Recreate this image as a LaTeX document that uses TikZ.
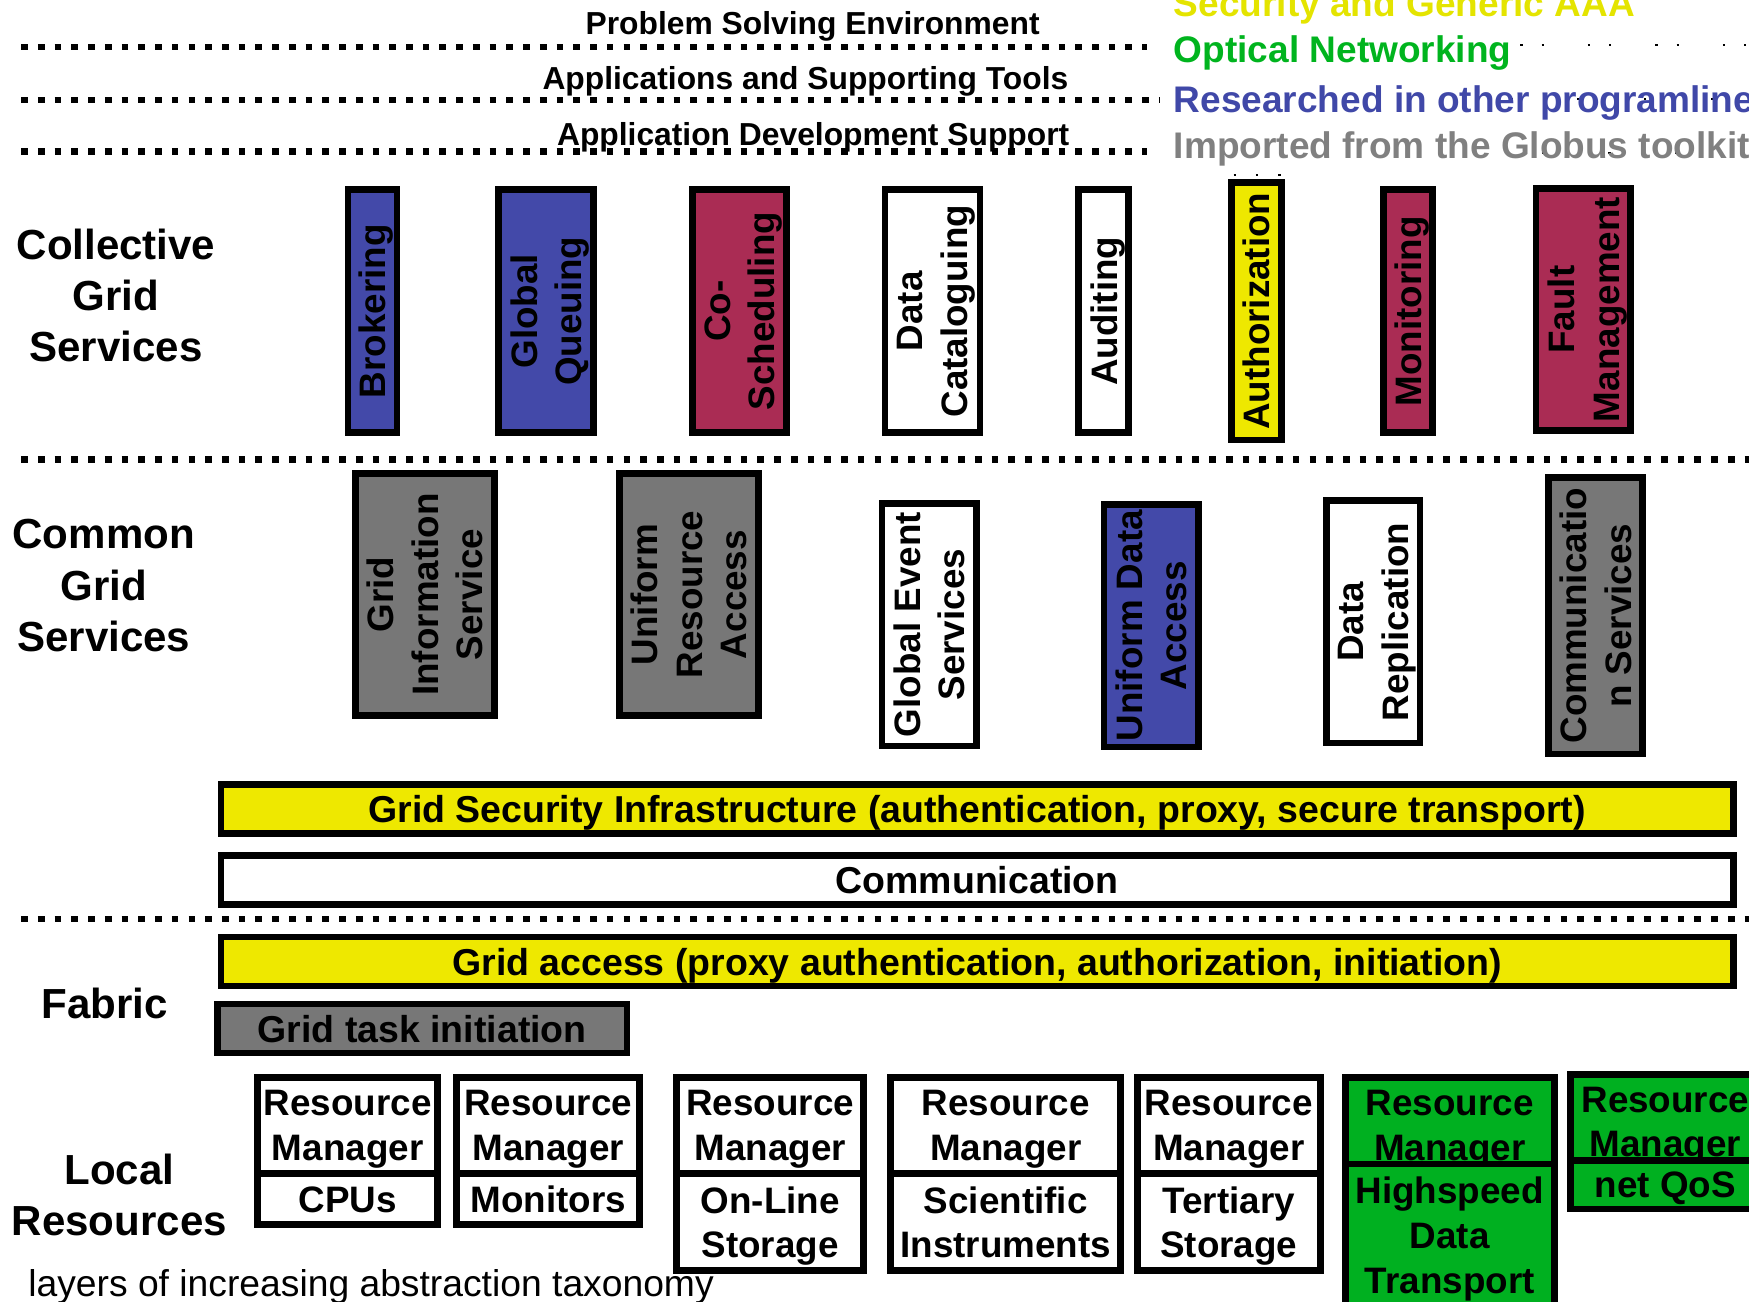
\documentclass[tikz,border=0pt]{standalone}
\usepackage{fontspec}
\setmainfont{Liberation Sans}
\usetikzlibrary{positioning}
\definecolor{gridblue}{RGB}{67,73,169}
\definecolor{gridred}{RGB}{170,44,84}
\definecolor{gridyellow}{RGB}{238,232,0}
\definecolor{gridgray}{RGB}{119,119,119}
\definecolor{gridgreen}{RGB}{0,176,32}
\definecolor{aaayellow}{RGB}{228,228,0}
\definecolor{optgreen}{RGB}{0,180,30}
\definecolor{progblue}{RGB}{64,72,168}
\definecolor{globgray}{RGB}{128,128,128}
\tikzset{
    boxtext/.style={font=\fontsize{16.5}{20}\selectfont\bfseries, align=center, inner sep=1pt, text depth=0pt},
    service/.style={boxtext, draw, line width=3pt, rotate=90, minimum width=109pt},
    bar/.style={boxtext, font=\fontsize{16.8}{20}\selectfont\bfseries, draw, line width=3pt, minimum height=22pt},
    resource/.style={boxtext, draw, line width=3pt, fill=white, anchor=north, minimum height=42.75pt},
    layer/.style={font=\fontsize{18.85}{23}\selectfont\bfseries, align=center},
    sublayer/.style={font=\fontsize{14.25}{17}\selectfont\bfseries, anchor=base, inner sep=0pt},
    legend/.style={font=\fontsize{16.6}{20}\selectfont\bfseries, anchor=base west, inner sep=0pt},
    sep/.style={line width=3pt, dash pattern=on 3pt off 4.5pt},
    speck/.style={line width=1pt, dash pattern=on 1pt off 8.5pt on 1pt off 19.75pt}
}
\begin{document}
\begin{tikzpicture}[x=0.5pt, y=-0.5pt]
    \useasboundingbox (0,0) rectangle (1568,1167);
    \draw[sep] (19,42) -- (1028,42);
    \draw[sep] (19,89.7) -- (1040,89.7);
    \draw[sep] (19,136) -- (1028,136);
    \draw[sep] (19,412) -- (1568,412);
    \draw[sep] (19,824) -- (1568,824);
    \draw[speck] (1363,40) -- (1568,40);
    \draw[speck, dash pattern=on 1pt off 29pt] (1354,89) -- (1568,89);
    \draw[speck, dash pattern=on 1pt off 29pt] (1382,137) -- (1568,137);
    \draw[speck, dash pattern=on 1pt off 9pt] (1106,157) -- (1148,157);

    \node[sublayer] (PSE) at (728.5,30.5) {Problem Solving Environment};
    \node[sublayer] (AST) at (722,80.5) {Applications and Supporting Tools};
    \node[sublayer] (ADS) at (729,130) {Application Development Support};
    \node[legend, text=aaayellow] (AAA) at (1052,14.5) {Security and Generic AAA};
    \node[legend, text=optgreen] (ON) at (1052,56) {Optical Networking};
    \node[legend, text=progblue] (RPL) at (1052,100.5) {Researched in other programlines};
    \node[legend, text=globgray] (IGT) at (1052,142.5) {Imported from the Globus toolkit};

    \node[layer] (CGS) at (104,265) {Collective\\Grid\\Services};
    \node[layer] (CoGS) at (93,525) {Common\\Grid\\Services};
    \node[layer] (Fab) at (94,900) {Fabric};
    \node[layer] (LR) at (107,1071) {Local\\Resources};

    \node[service, fill=gridblue, minimum height=22pt] (Brok) at (334,279) {Brokering};
    \node[service, fill=gridblue, minimum height=42.5pt] (GQue) at (489.5,279) {Global\\Queuing};
    \node[service, fill=gridred, minimum height=42pt] (CoSch) at (663,279) {Co-\\Scheduling};
    \node[service, fill=white, minimum height=42.5pt] (DCat) at (836,279) {Data\\Cataloguing};
    \node[service, fill=white, minimum height=22.5pt] (Aud) at (989.5,279) {Auditing};
    \node[service, fill=gridyellow, minimum width=115.5pt, minimum height=22.5pt] (Auth) at (1126.3,279) {Authorization};
    \node[service, fill=gridred, minimum height=22pt] (Mon) at (1262.5,279) {Monitoring};
    \node[service, fill=gridred, minimum width=108.5pt, minimum height=42.5pt] (Fault) at (1419.5,277.5) {Fault\\Management};

    \node[service, fill=gridgray, minimum width=108.5pt, minimum height=62.5pt] (GIS) at (381,533) {Grid\\Information\\Service};
    \node[service, fill=gridgray, minimum width=108.5pt, minimum height=62.5pt] (URA) at (617.7,533) {Uniform\\Resource\\Access};
    \node[service, fill=white, minimum width=108.75pt, minimum height=42.25pt] (GES) at (833,560) {Global Event\\Services};
    \node[service, fill=gridblue, minimum width=108.75pt, minimum height=42.25pt] (UDA) at (1032,561) {Uniform Data\\Access};
    \node[service, fill=white, minimum width=108.5pt, minimum height=42pt] (DRep) at (1231,557.5) {Data\\Replication};
    \node[service, fill=gridgray, minimum width=124pt, minimum height=42.2pt] (ComS) at (1430.6,552) {Communicatio\\n Services};

    \node[bar, fill=gridyellow, minimum width=678pt] (GSI) at (876,725.5) {Grid Security Infrastructure (authentication, proxy, secure transport)};
    \node[bar, fill=white, minimum width=678pt] (Comm) at (876,789) {Communication};
    \node[bar, fill=gridyellow, minimum width=678pt] (Acc) at (876,862) {Grid access (proxy authentication, authorization, initiation)};
    \node[bar, fill=gridgray, minimum width=183.5pt] (Task) at (378.5,922) {Grid task initiation};

    \node[resource, minimum width=80.6pt] (RM1) at (311.7,963) {Resource\\Manager};
    \node[resource, minimum width=80.6pt, minimum height=22.75pt, below=-2.5pt of RM1] (CPU) {CPUs};
    \node[resource, minimum width=82pt] (RM2) at (491.5,963) {Resource\\Manager};
    \node[resource, minimum width=82pt, minimum height=22.75pt, below=-2.5pt of RM2] (Mons) {Monitors};
    \node[resource, minimum width=83.75pt] (RM3) at (690.5,963) {Resource\\Manager};
    \node[resource, minimum width=83.75pt, minimum height=43.25pt, below=-2.5pt of RM3] (OLS) {On-Line\\Storage};
    \node[resource, minimum width=103pt] (RM4) at (901.6,963) {Resource\\Manager};
    \node[resource, minimum width=103pt, minimum height=43.25pt, below=-2.5pt of RM4] (SI) {Scientific\\Instruments};
    \node[resource, minimum width=82pt] (RM5) at (1101.6,963) {Resource\\Manager};
    \node[resource, minimum width=82pt, minimum height=43.25pt, below=-2.5pt of RM5] (TS) {Tertiary\\Storage};
    \node[resource, fill=gridgreen, minimum width=93.7pt] (RM6) at (1299.7,963) {Resource\\Manager};
    \node[resource, fill=gridgreen, minimum width=93.7pt, minimum height=63.75pt, below=-7pt of RM6] (HDT) {Highspeed\\Data\\Transport};
    \node[resource, fill=gridgreen, minimum width=85.3pt] (RM7) at (1493,960) {Resource\\Manager};
    \node[resource, fill=gridgreen, minimum width=85.3pt, minimum height=21.75pt, below=-7pt of RM7] (QoS) {net QoS};

    \node[anchor=base west, inner sep=0pt, font=\fontsize{16.7}{20}\selectfont] (Cap) at (25,1162) {layers of increasing abstraction taxonomy};
\end{tikzpicture}
\end{document}
